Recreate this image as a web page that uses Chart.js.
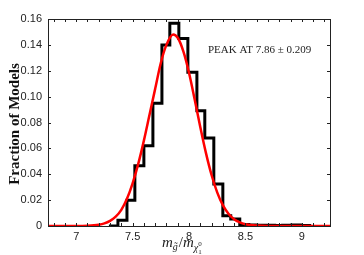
<!DOCTYPE html>
<html>
<head>
<meta charset="utf-8">
<script src="https://cdn.jsdelivr.net/npm/chart.js@4.4.0/dist/chart.umd.min.js"></script>
<style>
  html, body { margin: 0; padding: 0; background: #fff; }
  #wrap { width: 364px; height: 255px; }
</style>
</head>
<body>
<div id="wrap"><canvas id="chart" width="364" height="255"></canvas></div>
<script>
// histogram: left bin edges and fraction of models per bin
const binEdges = [7.29, 7.37, 7.45, 7.52, 7.60, 7.68, 7.76, 7.83, 7.91, 7.99, 8.07, 8.14, 8.22, 8.30, 8.37, 8.45, 8.53, 8.60, 8.68, 8.76, 8.83, 8.91, 8.99, 9.07];
const fractions = [0, 0.0045, 0.020, 0.0465, 0.062, 0.0948, 0.140, 0.1567, 0.145, 0.1188, 0.089, 0.068, 0.0325, 0.008, 0.0055, 0.0012, 0.0008, 0.0006, 0.0005, 0.0004, 0.0005, 0.0007, 0.0003, 0];

// red fit curve
const fitX = [6.75, 7.0, 7.1, 7.2, 7.25, 7.3, 7.35, 7.4, 7.45, 7.5, 7.55, 7.6, 7.65, 7.7, 7.75, 7.8, 7.86, 7.9, 7.95, 8.0, 8.05, 8.1, 8.15, 8.2, 8.25, 8.3, 8.35, 8.4, 8.45, 8.5, 8.6, 8.7, 9.0, 9.25];
const fitY = [0, 0, 0.0002, 0.001, 0.002, 0.004, 0.0072, 0.0125, 0.021, 0.033, 0.048, 0.066, 0.086, 0.106, 0.126, 0.140, 0.148, 0.1455, 0.135, 0.1185, 0.098, 0.0765, 0.0565, 0.0394, 0.026, 0.0161, 0.0095, 0.0053, 0.0028, 0.0014, 0.0003, 0, 0, 0];

const xTicks = [7, 7.5, 8, 8.5, 9];
const peakText = "PEAK AT 7.86 \u00b1 0.209";

const histPoints = binEdges.map((x, i) => ({ x: x, y: fractions[i] }));
const fitPoints = fitX.map((x, i) => ({ x: x, y: fitY[i] }));

// frame, inside ticks, titles
const decor = {
  id: "decor",
  afterDatasetsDraw(chart) {
    const ctx = chart.ctx;
    const a = chart.chartArea;
    const xs = chart.scales.x;
    const ys = chart.scales.y;
    ctx.save();
    ctx.strokeStyle = "#222";
    ctx.lineWidth = 1;
    ctx.beginPath();
    for (let i = 68; i <= 92; i++) {
      const px = Math.round(xs.getPixelForValue(i / 10)) + 0.5;
      ctx.moveTo(px, a.bottom); ctx.lineTo(px, a.bottom - 3);
      ctx.moveTo(px, a.top); ctx.lineTo(px, a.top + 3);
    }
    for (let i = 1; i < 8; i++) {
      const py = Math.round(ys.getPixelForValue(i * 0.02)) + 0.5;
      ctx.moveTo(a.left, py); ctx.lineTo(a.left + 3, py);
      ctx.moveTo(a.right, py); ctx.lineTo(a.right - 3, py);
    }
    ctx.stroke();
    ctx.strokeRect(Math.round(a.left) + 0.5, Math.round(a.top) + 0.5, Math.round(a.right - a.left), Math.round(a.bottom - a.top));

    // annotation
    ctx.fillStyle = "#222";
    ctx.font = "11px 'Liberation Serif', serif";
    ctx.textBaseline = "middle";
    ctx.fillText(peakText, 208, 50);

    // y title
    ctx.save();
    ctx.translate(15, 124);
    ctx.rotate(-Math.PI / 2);
    ctx.textAlign = "center";
    ctx.font = "bold 15px 'Liberation Serif', serif";
    ctx.fillStyle = "#111";
    ctx.fillText("Fraction of Models", 0, 0);
    ctx.restore();

    // x title  m_g~ / m_chi_1^0
    ctx.textBaseline = "alphabetic";
    ctx.textAlign = "left";
    let x = 162;
    const base = 247;
    ctx.font = "italic 15px 'Liberation Serif', serif";
    ctx.fillText("m", x, base); x += ctx.measureText("m").width;
    ctx.font = "italic 10px 'Liberation Serif', serif";
    ctx.fillText("g\u0303", x, base + 3); x += ctx.measureText("g").width + 1;
    ctx.font = "15px 'Liberation Serif', serif";
    ctx.fillText("/", x, base); x += ctx.measureText("/").width;
    ctx.font = "italic 15px 'Liberation Serif', serif";
    ctx.fillText("m", x, base); x += ctx.measureText("m").width;
    ctx.font = "italic 10px 'Liberation Serif', serif";
    ctx.fillText("\u03c7", x, base + 4); x += ctx.measureText("\u03c7").width;
    ctx.font = "7px 'Liberation Serif', serif";
    ctx.fillText("0", x, base - 1);
    ctx.fillText("1", x, base + 7);
    ctx.restore();
  }
};

new Chart(document.getElementById("chart"), {
  type: "line",
  data: {
    datasets: [
      {
        label: "models",
        data: histPoints,
        stepped: true,
        borderColor: "#000",
        borderWidth: 3,
        pointRadius: 0,
        fill: false,
        order: 2
      },
      {
        label: "fit",
        data: fitPoints,
        borderColor: "#ff0000",
        borderWidth: 2.5,
        pointRadius: 0,
        cubicInterpolationMode: "monotone",
        fill: false,
        order: 1
      }
    ]
  },
  options: {
    responsive: false,
    animation: false,
    events: [],
    layout: { padding: { left: 0, right: 34, top: 19, bottom: 0 } },
    plugins: { legend: { display: false }, tooltip: { enabled: false } },
    scales: {
      x: {
        type: "linear",
        min: 6.75,
        max: 9.25,
        afterBuildTicks: (s) => { s.ticks = xTicks.map((v) => ({ value: v })); },
        afterFit: (s) => { s.height = 29; },
        grid: { display: false, drawTicks: false },
        border: { display: false },
        ticks: {
          padding: 4,
          color: "#222",
          font: { family: "'Liberation Sans', sans-serif", size: 11 },
          callback: (v) => String(v)
        }
      },
      y: {
        min: 0,
        max: 0.16,
        afterFit: (s) => { s.width = 48; },
        grid: { display: false, drawTicks: false },
        border: { display: false },
        ticks: {
          stepSize: 0.02,
          padding: 6,
          color: "#222",
          font: { family: "'Liberation Sans', sans-serif", size: 11 },
          callback: (v) => (v === 0 ? "0" : v.toFixed(2))
        }
      }
    }
  },
  plugins: [decor]
});
</script>
</body>
</html>
